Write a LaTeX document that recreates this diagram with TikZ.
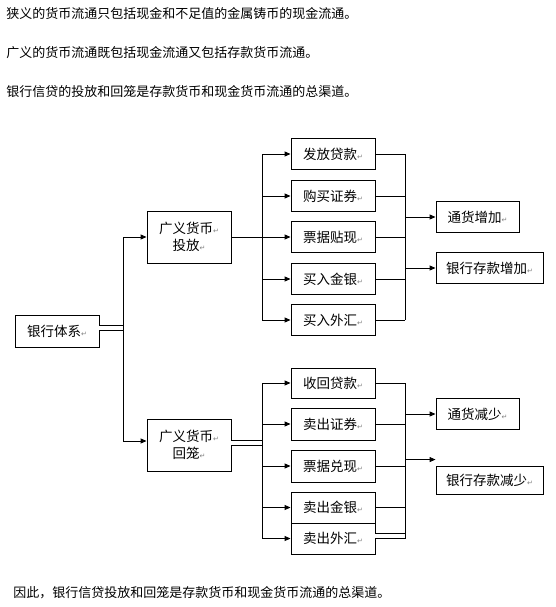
\documentclass[tikz,border=0pt]{standalone}
\usepackage{fontspec}
\setmainfont{Noto Sans CJK SC}
\newfontfamily\symfont{DejaVu Sans}
\usetikzlibrary{arrows.meta}
\newcommand{\retmark}{{\symfont\fontsize{7}{7}\selectfont\color{gray}↵}}
\begin{document}
\begin{tikzpicture}[x=1pt,y=-1pt,line width=0.9pt,
    box/.style={draw,inner sep=0pt,minimum width=84pt,minimum height=31pt,
      font=\fontsize{13.5}{17}\selectfont,align=center},
    para/.style={anchor=west,inner sep=0pt,font=\fontsize{13}{15}\selectfont},
    arr/.style={-{Triangle[length=6pt,width=5pt]}},
    dbl/.style={double,double distance=4.6pt,line width=0.9pt}]
  \useasboundingbox (0,0) rectangle (555,607);
  % text above and below
  \node[para] (t1) at (6,14) {狭义的货币流通只包括现金和不足值的金属铸币的现金流通。};
  \node[para] (t2) at (6,53) {广义的货币流通既包括现金流通又包括存款货币流通。};
  \node[para] (t3) at (6,92) {银行信贷的投放和回笼是存款货币和现金货币流通的总渠道。};
  \node[para] (t4) at (13,593) {因此，银行信贷投放和回笼是存款货币和现金货币流通的总渠道。};
  % left boxes
  \node[box,minimum height=32pt] (bank) at (57,331) {银行体系\retmark};
  \node[box,minimum height=52pt] (tf) at (189,237) {广义货币\retmark\\投放\retmark};
  \node[box,minimum height=52pt] (hl) at (189,445) {广义货币\retmark\\回笼\retmark};
  % middle boxes
  \node[box] (u1) at (333,154) {发放贷款\retmark};
  \node[box] (u2) at (333,196) {购买证券\retmark};
  \node[box] (u3) at (333,237) {票据贴现\retmark};
  \node[box] (u4) at (333,279) {买入金银\retmark};
  \node[box] (u5) at (333,320) {买入外汇\retmark};
  \node[box,minimum height=30pt] (l1) at (333,383) {收回贷款\retmark};
  \node[box,minimum height=32pt] (l2) at (333,424) {卖出证券\retmark};
  \node[box,minimum height=32pt] (l3) at (333,466) {票据兑现\retmark};
  \node[box] (l4) at (333,507.5) {卖出金银\retmark};
  \node[box] (l5) at (333,538.5) {卖出外汇\retmark};
  % right boxes
  \node[box,minimum width=83pt] (r1) at (477.5,217) {通货增加\retmark};
  \node[box,minimum width=107pt] (r2) at (489.5,268) {银行存款增加\retmark};
  \node[box,minimum width=83pt] (r3) at (477.5,414) {通货减少\retmark};
  \node[box,minimum width=107pt,minimum height=28pt] (r4) at (489.5,480) {银行存款减少\retmark};
  % trunk from the bank
  \coordinate (sp) at (123,328);
  \draw[dbl] ([yshift=3pt]bank.east) -- (sp);
  \draw[arr] (sp) |- (tf.west);
  \draw[arr] (sp) |- ([yshift=4pt]hl.west);
  % upper branch
  \coordinate (ub) at (262,237);
  \coordinate (uc) at (405,237);
  \draw (tf.east) -- (ub);
  \draw (ub |- u1.west) -- (ub |- u5.west);
  \draw (uc |- u1.east) -- (uc |- u5.east);
  \foreach \b in {u1,u2,u3,u4,u5}{
    \draw[arr] (ub |- \b.west) -- (\b.west);
    \draw (\b.east) -- (uc |- \b.east);
  }
  \draw[arr] (uc |- r1.west) -- (r1.west);
  \draw[arr] (uc |- r2.west) -- (r2.west);
  % lower branch
  \coordinate (lb) at (262,443);
  \coordinate (lc) at (405,443);
  \coordinate (l5e) at ([yshift=2.5pt]l5.east);
  \coordinate (r4in) at ([yshift=6pt]r4.north west);
  \draw[dbl] ([yshift=2pt]hl.east) -- (lb);
  \draw (lb |- l1.west) -- (lb |- l5.west);
  \foreach \b in {l1,l2,l3,l4,l5}
    \draw[arr] (lb |- \b.west) -- (\b.west);
  \foreach \b in {l1,l2,l3,l4}
    \draw (\b.east) -- (lc |- \b.east);
  \draw[dbl] (l5e) -- (lc |- l5e);
  \draw (lc |- l1.east) -- (lc |- l5.east);
  \draw[arr] (lc |- r3.west) -- (r3.west);
  \draw[arr] (lc |- r4in) -- (r4in);
\end{tikzpicture}
\end{document}
